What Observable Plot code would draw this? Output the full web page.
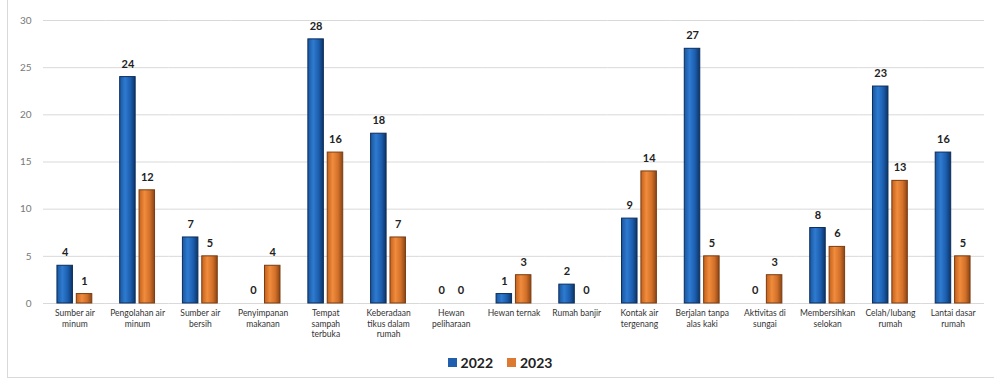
<!DOCTYPE html>
<html>
<head>
<meta charset="utf-8">
<script src="https://cdn.jsdelivr.net/npm/d3@7"></script>
<script src="https://cdn.jsdelivr.net/npm/@observablehq/plot@0.6"></script>
<style>
  html, body { margin: 0; padding: 0; background: #fff; }
  #wrap { position: relative; width: 994px; height: 381px; font-family: Lato, "Open Sans", sans-serif; }
  #frame { position: absolute; left: 7px; top: 0; width: 987px; height: 378px;
           border-left: 1px solid #d9d9d9; border-bottom: 1px solid #d9d9d9; box-sizing: border-box; }
  #chart { position: absolute; left: 0; top: 0; }
  #legend { position: absolute; left: 0; top: 354px; width: 994px; display: flex; justify-content: center;
            gap: 14px; font-weight: 700; font-size: 14px; color: #222; padding-left: 6px; box-sizing: border-box; }
  .item { display: flex; align-items: center; gap: 4px; }
  .sw { width: 9px; height: 9px; display: inline-block; }
</style>
</head>
<body>
<div id="wrap">
  <div id="frame"></div>
  <div id="chart"></div>
  <div id="legend"></div>
</div>
<script>
// Risk factors surveyed, counts per year
const categories = [
  "Sumber air minum", "Pengolahan air minum", "Sumber air bersih", "Penyimpanan makanan",
  "Tempat sampah terbuka", "Keberadaan tikus dalam rumah", "Hewan peliharaan", "Hewan ternak",
  "Rumah banjir", "Kontak air tergenang", "Berjalan tanpa alas kaki", "Aktivitas di sungai",
  "Membersihkan selokan", "Celah/lubang rumah", "Lantai dasar rumah"
];
const tickLabels = [
  "Sumber air\nminum", "Pengolahan air\nminum", "Sumber air\nbersih", "Penyimpanan\nmakanan",
  "Tempat\nsampah\nterbuka", "Keberadaan\ntikus dalam\nrumah", "Hewan\npeliharaan", "Hewan ternak",
  "Rumah banjir", "Kontak air\ntergenang", "Berjalan tanpa\nalas kaki", "Aktivitas di\nsungai",
  "Membersihkan\nselokan", "Celah/lubang\nrumah", "Lantai dasar\nrumah"
];
const years = ["2022", "2023"];
const values2022 = [4, 24, 7, 0, 28, 18, 0, 1, 2, 9, 27, 0, 8, 23, 16];
const values2023 = [1, 12, 5, 4, 16, 7, 0, 3, 0, 14, 5, 3, 6, 13, 5];
const yTicks = [0, 5, 10, 15, 20, 25, 30];

const data = [];
categories.forEach((c, i) => {
  data.push({category: c, year: years[0], value: values2022[i]});
  data.push({category: c, year: years[1], value: values2023[i]});
});
const labelOf = new Map(categories.map((c, i) => [c, tickLabels[i]]));

const chart = Plot.plot({
  width: 994,
  height: 345,
  marginTop: 20,
  marginBottom: 42,
  marginLeft: 43,
  marginRight: 10,
  style: {fontFamily: "Lato, 'Open Sans', sans-serif", background: "transparent"},
  fx: {domain: categories, padding: 0, round: false, label: null},
  x: {domain: years, paddingInner: 0.2, paddingOuter: 0.72, round: false, axis: null},
  y: {domain: [0, 30], label: null},
  marks: [
    Plot.gridY(yTicks, {stroke: "#d9d9d9", strokeOpacity: 1, strokeWidth: 1}),
    Plot.axisY(yTicks, {tickSize: 0, tickPadding: 12, fontSize: 10, fill: "#777", label: null}),
    Plot.axisFx({anchor: "bottom", tickSize: 0, tickPadding: 5, fontSize: 8.5, lineHeight: 1.25, fill: "#333",
                 tickFormat: (d) => labelOf.get(d), label: null}),
    Plot.barY(data.filter(d => d.year === years[0]),
      {fx: "category", x: "year", y: "value", fill: "url(#grad2022)", stroke: "#0b2d5a", strokeWidth: 1}),
    Plot.barY(data.filter(d => d.year === years[1]),
      {fx: "category", x: "year", y: "value", fill: "url(#grad2023)", stroke: "#7a3d12", strokeWidth: 1}),
    Plot.text(data, {fx: "category", x: "year", y: "value", text: d => String(d.value),
      dy: -13, fontSize: 11, fontWeight: 700, fill: "#222"})
  ]
});

// Shaded fills for the two bar series
const defs = d3.select(chart).insert("defs", ":first-child");
const addGrad = (id, stops) => {
  const g = defs.append("linearGradient").attr("id", id)
    .attr("x1", "0").attr("x2", "1").attr("y1", "0").attr("y2", "0");
  stops.forEach(([o, c]) => g.append("stop").attr("offset", o).attr("stop-color", c));
};
addGrad("grad2022", [["0%", "#1a56a0"], ["35%", "#2e7bd0"], ["70%", "#1c5dae"], ["100%", "#0c3566"]]);
addGrad("grad2023", [["0%", "#c4601c"], ["35%", "#f08c3c"], ["70%", "#d2702a"], ["100%", "#8a4514"]]);

document.getElementById("chart").appendChild(chart);

// Legend
const legend = d3.select("#legend");
const swatches = [["2022", "#1f5fae"], ["2023", "#db7a30"]];
swatches.forEach(([name, color]) => {
  const it = legend.append("div").attr("class", "item");
  it.append("span").attr("class", "sw").style("background", color);
  it.append("span").text(name);
});
</script>
</body>
</html>
